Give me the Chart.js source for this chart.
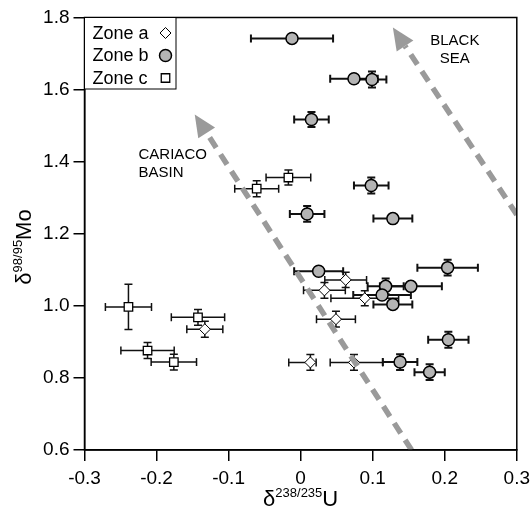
<!DOCTYPE html>
<html>
<head>
<meta charset="utf-8">
<script src="https://cdn.jsdelivr.net/npm/chart.js@4.4.1/dist/chart.umd.min.js"></script>
<style>
  html, body { margin: 0; padding: 0; background: #fff; }
</style>
</head>
<body>
<canvas id="myChart" width="532" height="511"></canvas>
<script>
// Zone a (open diamonds)
var zoneA_x    = [0.0625, 0.033, 0.089, 0.049, 0.0135, 0.074, -0.133];
var zoneA_y    = [1.072, 1.043, 1.021, 0.963, 0.843, 0.843, 0.935];
var zoneA_xLo  = [0.029, 0.029, 0.047, 0.027, 0.030, 0.033, 0.025];
var zoneA_xHi  = [0.029, 0.029, 0.047, 0.027, 0.008, 0.040, 0.025];
var zoneA_yErr = [0.021, 0.022, 0.021, 0.022, 0.022, 0.022, 0.022];

// Zone b (grey circles)
var zoneB_x    = [-0.012, 0.074, 0.099, 0.015, 0.098, 0.009, 0.128, 0.204, 0.025, 0.118, 0.153, 0.113, 0.128, 0.205, 0.138, 0.179];
var zoneB_y    = [1.742, 1.630, 1.628, 1.517, 1.334, 1.255, 1.242, 1.106, 1.096, 1.054, 1.054, 1.030, 1.004, 0.906, 0.844, 0.816];
var zoneB_xErr = [0.057, 0.033, 0.020, 0.024, 0.024, 0.024, 0.027, 0.042, 0.034, 0.025, 0.043, 0.040, 0.027, 0.028, 0.024, 0.021];
var zoneB_yErr = [0, 0, 0.022, 0.021, 0.022, 0.022, 0, 0.022, 0, 0.022, 0, 0, 0, 0.022, 0.022, 0.022];

// Zone c (open squares)
var zoneC_x    = [-0.239, -0.1425, -0.2125, -0.176, -0.017, -0.061];
var zoneC_y    = [0.997, 0.968, 0.876, 0.844, 1.356, 1.325];
var zoneC_xErr = [0.032, 0.037, 0.037, 0.0315, 0.031, 0.0305];
var zoneC_yErr = [0.063, 0.022, 0.022, 0.022, 0.021, 0.022];

// axis ticks
var xTicks = [-0.3, -0.2, -0.1, 0, 0.1, 0.2, 0.3];
var yTicks = [0.6, 0.8, 1.0, 1.2, 1.4, 1.6, 1.8];

var FONT = "'Liberation Sans', Arial, sans-serif";
Chart.defaults.font.family = FONT;
Chart.defaults.color = '#000';

function pts(xs, ys) {
  return xs.map(function (x, i) { return { x: x, y: ys[i] }; });
}

function errorBars(chart, xs, ys, xLo, xHi, yErr, lw) {
  var ctx = chart.ctx, sx = chart.scales.x, sy = chart.scales.y;
  var cap = 4;
  ctx.save();
  ctx.strokeStyle = '#111';
  ctx.lineWidth = lw;
  for (var i = 0; i < xs.length; i++) {
    var px = sx.getPixelForValue(xs[i]);
    var py = sy.getPixelForValue(ys[i]);
    var x0 = sx.getPixelForValue(xs[i] - xLo[i]);
    var x1 = sx.getPixelForValue(xs[i] + xHi[i]);
    ctx.beginPath();
    ctx.moveTo(x0, py); ctx.lineTo(x1, py);
    ctx.moveTo(x0, py - cap); ctx.lineTo(x0, py + cap);
    ctx.moveTo(x1, py - cap); ctx.lineTo(x1, py + cap);
    if (yErr[i] > 0) {
      var y0 = sy.getPixelForValue(ys[i] - yErr[i]);
      var y1 = sy.getPixelForValue(ys[i] + yErr[i]);
      ctx.moveTo(px, y0); ctx.lineTo(px, y1);
      ctx.moveTo(px - cap, y0); ctx.lineTo(px + cap, y0);
      ctx.moveTo(px - cap, y1); ctx.lineTo(px + cap, y1);
    }
    ctx.stroke();
  }
  ctx.restore();
}

var errorBarPlugin = {
  id: 'errorBars',
  beforeDatasetsDraw: function (chart) {
    errorBars(chart, zoneC_x, zoneC_y, zoneC_xErr, zoneC_xErr, zoneC_yErr, 1.5);
    errorBars(chart, zoneA_x, zoneA_y, zoneA_xLo, zoneA_xHi, zoneA_yErr, 1.5);
    errorBars(chart, zoneB_x, zoneB_y, zoneB_xErr, zoneB_xErr, zoneB_yErr, 2);
  }
};

// trend arrows, in data units
var trends = [
  { from: [0.154, 0.6], to: [-0.147, 1.531], text: ['CARIACO', 'BASIN'], at: [-0.225, 1.418], align: 'left' },
  { from: [0.3, 1.253], to: [0.128, 1.772], text: ['BLACK', 'SEA'], at: [0.214, 1.736], align: 'center' }
];

var arrowPlugin = {
  id: 'arrows',
  afterDatasetsDraw: function (chart) {
    var ctx = chart.ctx, sx = chart.scales.x, sy = chart.scales.y, a = chart.chartArea;
    ctx.save();
    ctx.beginPath();
    ctx.rect(a.left, a.top, a.right - a.left, a.bottom - a.top);
    ctx.clip();
    trends.forEach(function (t) {
      var x0 = sx.getPixelForValue(t.from[0]), y0 = sy.getPixelForValue(t.from[1]);
      var x1 = sx.getPixelForValue(t.to[0]), y1 = sy.getPixelForValue(t.to[1]);
      var dx = x1 - x0, dy = y1 - y0, len = Math.sqrt(dx * dx + dy * dy);
      var ux = dx / len, uy = dy / len;
      var head = 22, hw = 10;
      var bx = x1 - ux * head, by = y1 - uy * head;
      ctx.strokeStyle = '#9a9a9a';
      ctx.fillStyle = '#9a9a9a';
      ctx.lineWidth = 5.5;
      ctx.setLineDash([12, 8]);
      ctx.beginPath();
      ctx.moveTo(x0, y0);
      ctx.lineTo(bx, by);
      ctx.stroke();
      ctx.setLineDash([]);
      ctx.beginPath();
      ctx.moveTo(x1, y1);
      ctx.lineTo(bx - uy * hw, by + ux * hw);
      ctx.lineTo(bx + uy * hw, by - ux * hw);
      ctx.closePath();
      ctx.fill();

      ctx.fillStyle = '#000';
      ctx.font = '15px ' + FONT;
      ctx.textAlign = t.align;
      ctx.textBaseline = 'middle';
      var tx = sx.getPixelForValue(t.at[0]), ty = sy.getPixelForValue(t.at[1]);
      t.text.forEach(function (s, i) { ctx.fillText(s, tx, ty + i * 18); });
    });
    ctx.restore();
  }
};

var framePlugin = {
  id: 'frame',
  afterDraw: function (chart) {
    var ctx = chart.ctx, a = chart.chartArea;
    ctx.save();
    ctx.strokeStyle = '#000';
    ctx.lineWidth = 1.5;
    ctx.strokeRect(a.left, a.top, a.right - a.left, a.bottom - a.top);

    // legend box
    var lx = a.left, ly = a.top, lw = 91.5, lh = 71.5;
    ctx.fillStyle = '#fff';
    ctx.fillRect(lx, ly, lw, lh);
    ctx.lineWidth = 1;
    ctx.strokeRect(lx, ly, lw, lh);
    ctx.font = '18px ' + FONT;
    ctx.textAlign = 'left';
    ctx.textBaseline = 'middle';
    chart.data.datasets.forEach(function (ds, i) {
      var yy = ly + 15.5 + i * 22.5;
      ctx.fillStyle = '#000';
      ctx.fillText(ds.label, lx + 8, yy + 1);
      ctx.fillStyle = ds.backgroundColor;
      ctx.strokeStyle = ds.borderColor;
      ctx.lineWidth = ds.borderWidth;
      Chart.helpers.drawPoint(ctx, {
        pointStyle: ds.pointStyle, radius: ds.pointRadius,
        borderWidth: ds.borderWidth
      }, lx + 81, yy);
    });
    ctx.restore();

    // axis titles with superscripts
    function rich(parts, cx, cy) {
      var w = 0;
      parts.forEach(function (p) { ctx.font = p.size + 'px ' + FONT; p.w = ctx.measureText(p.t).width; w += p.w; });
      var x = cx - w / 2;
      parts.forEach(function (p) {
        ctx.font = p.size + 'px ' + FONT;
        ctx.fillText(p.t, x, cy - (p.sup ? 9 : 0));
        x += p.w;
      });
    }
    ctx.save();
    ctx.fillStyle = '#000';
    ctx.textAlign = 'left';
    ctx.textBaseline = 'alphabetic';
    rich([{ t: 'δ', size: 22 }, { t: '238/235', size: 13, sup: true }, { t: 'U', size: 22 }], (a.left + a.right) / 2, 506);
    ctx.translate(31, 247);
    ctx.rotate(-Math.PI / 2);
    rich([{ t: 'δ', size: 22 }, { t: '98/95', size: 13, sup: true }, { t: 'Mo', size: 22 }], 0, 0);
    ctx.restore();
  }
};

new Chart(document.getElementById('myChart'), {
  type: 'scatter',
  data: {
    datasets: [{
      label: 'Zone a',
      data: pts(zoneA_x, zoneA_y),
      pointStyle: 'rectRot',
      pointRadius: 5.5,
      backgroundColor: '#fff',
      borderColor: '#000',
      borderWidth: 1
    }, {
      label: 'Zone b',
      data: pts(zoneB_x, zoneB_y),
      pointStyle: 'circle',
      pointRadius: 6,
      backgroundColor: '#b4b4b4',
      borderColor: '#000',
      borderWidth: 1.5
    }, {
      label: 'Zone c',
      data: pts(zoneC_x, zoneC_y),
      pointStyle: 'rect',
      pointRadius: 6,
      backgroundColor: '#fff',
      borderColor: '#000',
      borderWidth: 1.3
    }]
  },
  options: {
    responsive: false,
    animation: false,
    events: [],
    layout: { padding: { top: 17.5, right: 15.2, left: 0, bottom: 0 } },
    plugins: {
      legend: { display: false },
      tooltip: { enabled: false }
    },
    scales: {
      x: {
        type: 'linear',
        min: -0.3, max: 0.3,
        afterBuildTicks: function (s) { s.ticks = xTicks.map(function (v) { return { value: v }; }); },
        afterFit: function (s) { s.height = 61; s.paddingLeft = 0; s.paddingRight = 0; },
        ticks: {
          font: { size: 19 },
          padding: 6,
          maxRotation: 0,
          callback: function (v) { v = Math.round(v * 10) / 10; return v === 0 ? '0' : v.toFixed(1); }
        },
        grid: { drawOnChartArea: false, drawTicks: true, tickLength: 11, color: '#000', lineWidth: 1.5 },
        border: { display: true, color: '#000', width: 1.5 }
      },
      y: {
        type: 'linear',
        min: 0.6, max: 1.8,
        afterBuildTicks: function (s) { s.ticks = yTicks.map(function (v) { return { value: v }; }); },
        afterFit: function (s) { s.width = 84.5; s.paddingTop = 0; s.paddingBottom = 0; },
        ticks: {
          font: { size: 19 },
          padding: 4,
          callback: function (v) { return (Math.round(v * 10) / 10).toFixed(1); }
        },
        grid: { drawOnChartArea: false, drawTicks: true, tickLength: 11, color: '#000', lineWidth: 1.5 },
        border: { display: true, color: '#000', width: 1.5 }
      }
    }
  },
  plugins: [errorBarPlugin, arrowPlugin, framePlugin]
});
</script>
</body>
</html>
